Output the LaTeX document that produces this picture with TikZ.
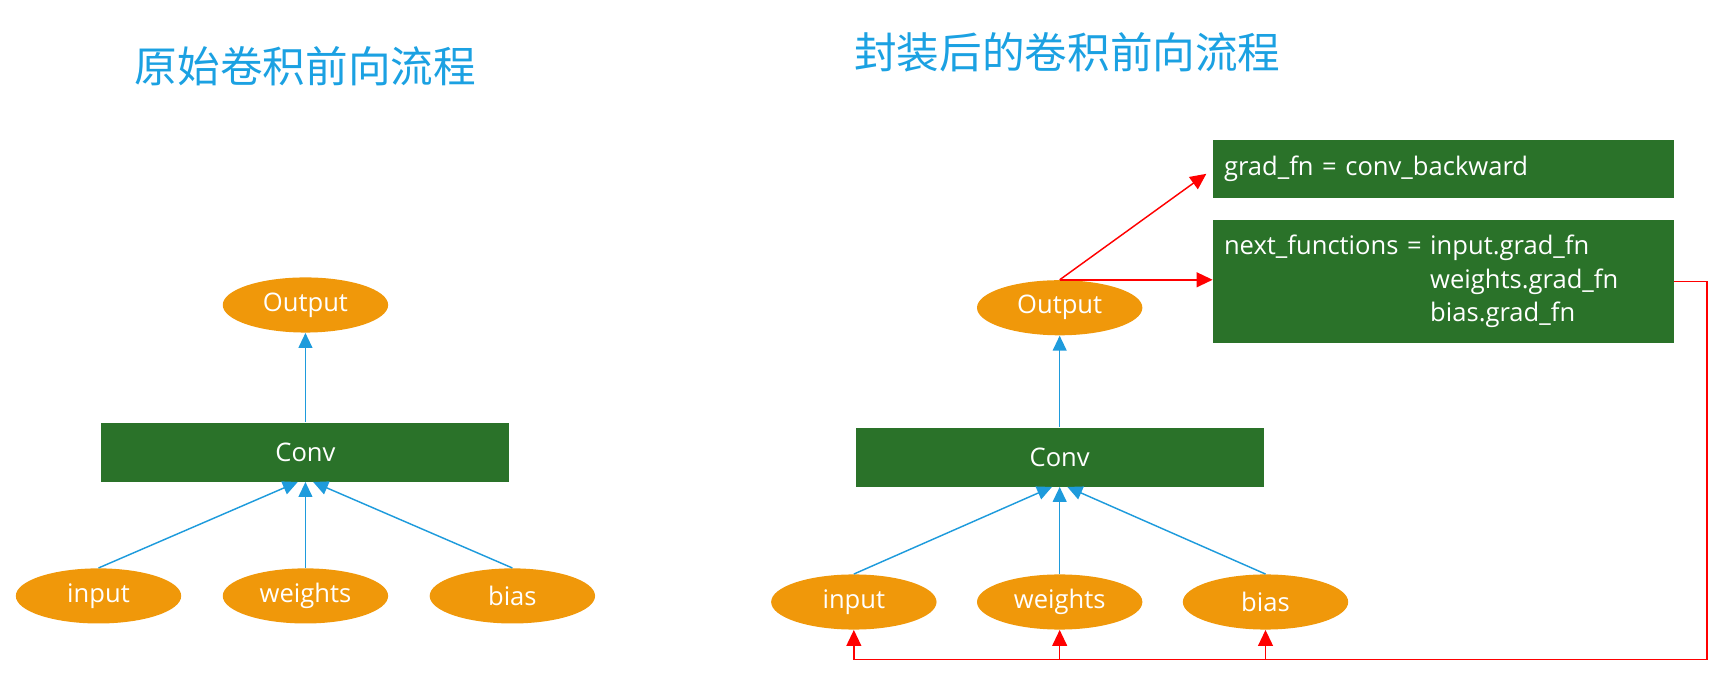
\documentclass[tikz,border=0pt]{standalone}
\usepackage{fontspec}
\setmainfont{Open Sans}
\newfontfamily\cjk{Noto Sans CJK SC}
\usetikzlibrary{
  arrows.meta,
  calc,
  positioning,
  shapes.geometric,
}
\definecolor{convgreen}{RGB}{42,114,41}
\definecolor{blobgold}{RGB}{240,152,10}
\definecolor{flowblue}{RGB}{30,155,220}
\definecolor{titleblue}{RGB}{27,161,226}
\tikzset{
  blob/.style={
    ellipse, fill=blobgold, text=white, minimum width=3cm,
    minimum height=1cm, inner sep=0pt, font=\fontsize{13.2}{16}\selectfont,
  },
  conv/.style={
    fill=convgreen, text=white, minimum width=7.4cm, minimum height=1.07cm,
    inner sep=0pt, font=\fontsize{13.2}{16}\selectfont,
  },
  info/.style={
    fill=convgreen, text=white, text width=7.96cm, inner xsep=0.2cm,
    inner ysep=0pt, align=left, font=\fontsize{13.2}{17.2}\selectfont,
  },
  fwd/.style={flowblue, line width=0.75pt, -{Triangle[width=0.25cm,length=0.27cm]}},
  back/.style={red, line width=0.75pt, -{Triangle[width=0.27cm,length=0.29cm]}},
}

\begin{document}
\begin{tikzpicture}[
  x=0.02cm, y=-0.02cm,
  node distance=1.6cm,
  title/.style={text=titleblue, font=\cjk\fontsize{22}{26}\selectfont},]
  \useasboundingbox (0,0) rectangle (1568,629.4);
  %%
  \node[title] (TitleL) at (277,60) {原始卷积前向流程};
  \node[title] (TitleR) at (968,47) {封装后的卷积前向流程};
  %%
  \node[conv] (ConvL) at (277,410) {Conv};
  \node[blob, above=1.62cm of ConvL] (OutL) {Output};
  \node[blob, below=1.56cm of ConvL] (WtL) {weights};
  \node[blob, left=0.74cm of WtL] (InL) {input};
  \node[blob, right=0.74cm of WtL] (BiasL) {bias};
  %%
  \draw[fwd] (ConvL.north) -- (OutL.south);
  \draw[fwd] (InL.north) -- ($(ConvL.south)+(-7,0)$);
  \draw[fwd] (WtL.north) -- (ConvL.south);
  \draw[fwd] (BiasL.north) -- ($(ConvL.south)+(7,0)$);
  %%
  \node[conv] (ConvR) at (961,414.5) {Conv};
  \node[blob, above=1.66cm of ConvR] (OutR) {Output};
  \node[blob, below=1.58cm of ConvR] (WtR) {weights};
  \node[blob, left=0.72cm of WtR] (InR) {input};
  \node[blob, right=0.72cm of WtR] (BiasR) {bias};
  %%
  \draw[fwd] (ConvR.north) -- (OutR.south);
  \draw[fwd] (InR.north) -- ($(ConvR.south)+(-7,0)$);
  \draw[fwd] (WtR.north) -- (ConvR.south);
  \draw[fwd] (BiasR.north) -- ($(ConvR.south)+(7,0)$);
  %%
  \node[info, minimum height=1.06cm] (Grad) at (1309,153.5)
  {grad\_fn = conv\_backward};
  \node[info, minimum height=2.22cm, below=0.38cm of Grad] (Next)
  {\begin{tabular}{@{}l@{\ }l@{}}
    next\_functions = & input.grad\_fn\\
    & weights.grad\_fn\\
    & bias.grad\_fn
  \end{tabular}};
  %%
  \draw[back, shorten >=4pt] (OutR.north) -- (Grad.west);
  \draw[back] (OutR.north) -- (OutR.north -| Next.west);
  %%
  \coordinate (Loop) at (1548,598);
  \draw[back] (Next.east) -| (Loop) -| (InR.south);
  \draw[back] (WtR.south |- Loop) -- (WtR.south);
  \draw[back] (BiasR.south |- Loop) -- (BiasR.south);
\end{tikzpicture}
\end{document}
